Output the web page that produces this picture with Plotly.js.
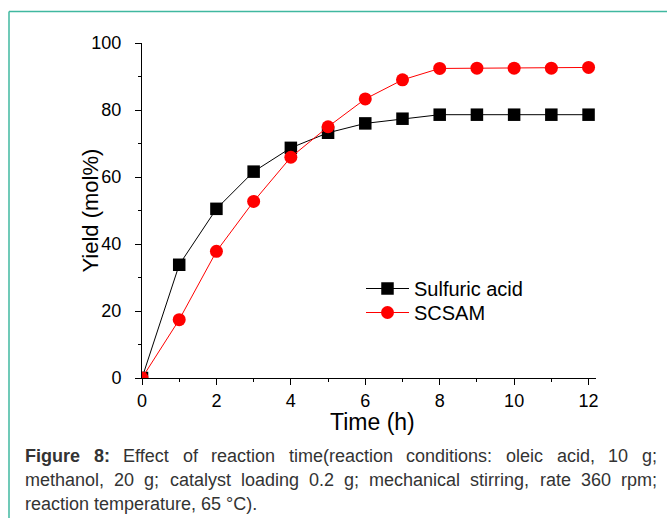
<!DOCTYPE html>
<html>
<head>
<meta charset="utf-8">
<script src="https://cdn.plot.ly/plotly-3.0.1.min.js"></script>
<style>html,body{margin:0;padding:0;background:#fff;}</style>
</head>
<body>
<div id="chart" style="width:667px;height:518px;"></div>
<script>
// ---- data ----
const timeH = [0, 1, 2, 3, 4, 5, 6, 7, 8, 9, 10, 11, 12];
const sulfuricYield = [0, 33.8, 50.5, 61.6, 68.7, 73.2, 76.0, 77.4, 78.6, 78.6, 78.6, 78.6, 78.6];
const scsamYield = [0, 17.4, 37.8, 52.7, 65.9, 75.0, 83.3, 89.0, 92.4, 92.5, 92.5, 92.5, 92.7];
const seriesNames = ['Sulfuric acid', 'SCSAM'];
const xTickVals = [0, 2, 4, 6, 8, 10, 12];
const yTickVals = [0, 20, 40, 60, 80, 100];
const xTitle = 'Time (h)';
const yTitle = 'Yield (mol%)';
const captionLine1Bold = ['Figure', '8:'];
const captionLine1 = ['Effect', 'of', 'reaction', 'time(reaction', 'conditions:', 'oleic', 'acid,', '10', 'g;'];
const captionLine2 = ['methanol,', '20', 'g;', 'catalyst', 'loading', '0.2', 'g;', 'mechanical', 'stirring,', 'rate', '360', 'rpm;'];
const captionLine3 = 'reaction temperature, 65 °C).';

// ---- layout geometry ----
const W = 667, H = 518;
const M = {l: 142, r: 71, t: 43, b: 140};
const PW = W - M.l - M.r, PH = H - M.t - M.b;
const px2x = p => (p - M.l) / PW;
const py2y = p => (H - M.b - p) / PH;

const FONT = 'Liberation Sans, Arial, sans-serif';
const CAP_SIZE = 18;
const CAP_COLOR = '#333333';

// caption justification using measured word widths
const cv = document.createElement('canvas').getContext('2d');
function measure(word, bold) {
  cv.font = (bold ? 'bold ' : '') + CAP_SIZE + 'px "Liberation Sans", Arial, sans-serif';
  return cv.measureText(word).width;
}
const capLeft = 25, capRight = 657;
const annotations = [];
function justify(words, boldFlags, cy) {
  const widths = words.map((w, i) => measure(w, boldFlags[i]));
  const total = widths.reduce((a, b) => a + b, 0);
  const gap = (capRight - capLeft - total) / (words.length - 1);
  let x = capLeft;
  words.forEach((w, i) => {
    annotations.push({
      xref: 'paper', yref: 'paper', x: px2x(x), y: py2y(cy),
      xanchor: 'left', yanchor: 'middle', showarrow: false,
      borderpad: 0, borderwidth: 0,
      text: boldFlags[i] ? '<b>' + w + '</b>' : w,
      font: {family: FONT, size: CAP_SIZE, color: CAP_COLOR}
    });
    x += widths[i] + gap;
  });
}
const l1 = captionLine1Bold.concat(captionLine1);
justify(l1, l1.map((w, i) => i < captionLine1Bold.length), 455.5);
justify(captionLine2, captionLine2.map(() => false), 479.5);
annotations.push({
  xref: 'paper', yref: 'paper', x: px2x(capLeft), y: py2y(503.5),
  xanchor: 'left', yanchor: 'middle', showarrow: false, borderpad: 0, borderwidth: 0,
  text: captionLine3, font: {family: FONT, size: CAP_SIZE, color: CAP_COLOR}
});
// axis titles placed as text at their positions in the figure
annotations.push({
  xref: 'paper', yref: 'paper', x: px2x(90), y: 0.5,
  xanchor: 'center', yanchor: 'middle', showarrow: false, textangle: -90,
  borderpad: 0, borderwidth: 0,
  text: yTitle, font: {family: FONT, size: 22, color: '#000'}
});
annotations.push({
  xref: 'paper', yref: 'paper', x: px2x(372), y: py2y(422),
  xanchor: 'center', yanchor: 'middle', showarrow: false,
  borderpad: 0, borderwidth: 0,
  text: xTitle, font: {family: FONT, size: 23, color: '#000'}
});

const teal = '#40b8a0';
const shapes = [
  {type: 'line', xref: 'paper', yref: 'paper', x0: px2x(9), x1: px2x(670), y0: py2y(11.5), y1: py2y(11.5), line: {color: teal, width: 1.5}},
  {type: 'line', xref: 'paper', yref: 'paper', x0: px2x(9), x1: px2x(9), y0: py2y(11.5), y1: py2y(520), line: {color: teal, width: 1.5}}
];

const traces = [
  {x: timeH, y: sulfuricYield, name: seriesNames[0], type: 'scatter', mode: 'lines+markers', legend: 'legend',
   line: {color: '#000000', width: 1}, marker: {symbol: 'square', size: 12.5, color: '#000000'}},
  {x: timeH, y: scsamYield, name: seriesNames[1], type: 'scatter', mode: 'lines+markers', legend: 'legend2',
   line: {color: '#ff0000', width: 1}, marker: {symbol: 'circle', size: 13, color: '#ff0000'}}
];

const axisCommon = {
  showgrid: false, zeroline: false, showline: true, linecolor: '#000', linewidth: 1,
  ticks: 'outside', ticklen: 6, tickwidth: 1, tickcolor: '#000',
  tickfont: {family: FONT, size: 18, color: '#000'}, automargin: false
};

const legendCommon = {xanchor: 'left', yanchor: 'top', bgcolor: 'rgba(0,0,0,0)', borderwidth: 0,
  itemwidth: 43, font: {family: FONT, size: 20, color: '#000'}};

const layout = {
  width: W, height: H, margin: M,
  paper_bgcolor: '#ffffff', plot_bgcolor: '#ffffff',
  font: {family: FONT, color: '#000'},
  showlegend: true,
  legend: Object.assign({}, legendCommon, {x: px2x(361), y: py2y(269)}),
  legend2: Object.assign({}, legendCommon, {x: px2x(361), y: py2y(293)}),
  xaxis: Object.assign({}, axisCommon, {
    range: [0, 12.2], tickvals: xTickVals, ticktext: xTickVals.map(String),
    minor: {ticks: 'outside', ticklen: 3, dtick: 1, tick0: 0, tickcolor: '#000'}
  }),
  yaxis: Object.assign({}, axisCommon, {
    range: [0, 100], tickvals: yTickVals, ticktext: yTickVals.map(String),
    ticklabelstandoff: 10,
    minor: {ticks: 'outside', ticklen: 3, dtick: 10, tick0: 0, tickcolor: '#000'}
  }),
  shapes: shapes,
  annotations: annotations
};

Plotly.newPlot('chart', traces, layout, {staticPlot: true, displayModeBar: false});
</script>
</body>
</html>
